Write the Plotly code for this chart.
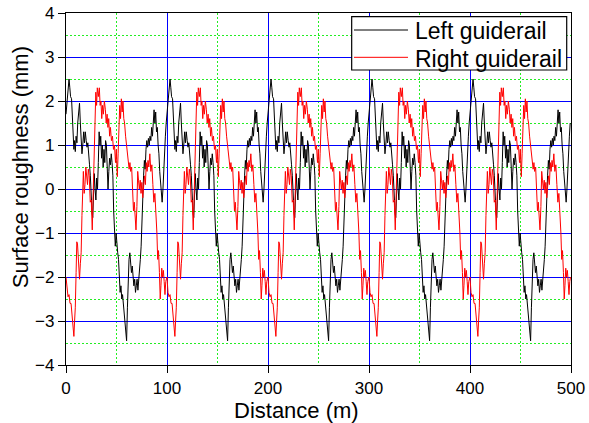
import plotly.graph_objects as go

# One 100 m cycle (the profile repeats identically every 100 m)
PERIOD_M = 100
N_CYCLES = 5

left_x = [0, 1, 2, 3, 3.8, 4.5, 5.5, 6.3, 7.1, 7.8, 8.5, 9.2, 10, 10.8, 11.6, 12.4, 13.4, 14.2, 15, 15.8,
          16.6, 17.5, 18.3, 19.1, 20, 20.8, 21.6, 22.4, 23.3, 24.1, 25, 25.8, 26.5, 27.3, 28, 28.8, 29.6,
          30.4, 31.2, 32, 32.8, 33.6, 34.4, 35.2, 36, 36.8, 37.6, 38.4, 39.2, 40, 40.8, 41.6, 42.4, 43.2,
          44, 44.8, 45.6, 46.4, 47.2, 48, 48.8, 49.6, 50.4, 51.2, 52, 52.8, 53.6, 54.4, 55.2, 56, 56.8,
          57.6, 58.4, 59.2, 60, 60.8, 61.6, 62.4, 63.2, 64, 64.8, 65.6, 66.4, 67.2, 68, 68.8, 69.6, 70.4,
          71.2, 72, 72.8, 73.6, 74.4, 75.2, 76, 76.8, 77.6, 78.4, 79.2, 80, 80.8, 81.6, 82.4, 83.2, 84,
          84.8, 85.6, 86.4, 87.2, 88, 88.8, 89.6, 90.4, 91.2, 92, 92.8, 93.6, 94.4, 95.2, 96, 96.8, 97.6,
          98.4, 99.2]
left_y = [1.7, 2.0, 2.3, 2.5, 2.3, 2.1, 2.05, 1.7, 1.2, 0.9, 1.1, 0.85, 1.2, 1.05, 1.5, 1.65, 1.95, 1.5, 1.1, 0.8,
          1.0, 1.3, 1.05, 1.3, 1.1, 0.95, 1.05, 0.7, 0.55, 0.3, -0.25, -0.55, -0.65, -0.1, 0.35, 0.0, -0.25,
          0.25, 0.0, 0.6, 1.3, 1.0, 1.2, 0.7, 1.0, 0.5, 0.9, 0.6, 1.1, 1.0, 0.5, 0.0, 0.4, 0.7,
          0.55, 0.8, 0.6, 0.3, -0.5, -1.1, -1.3, -1.0, -1.35, -1.45, -1.6, -2.0, -2.35, -2.2, -2.5, -2.4, -2.6,
          -2.75, -3.0, -3.2, -3.45, -2.7, -2.0, -1.6, -1.45, -1.7, -1.9, -1.75, -2.05, -2.2, -2.05, -2.35, -2.2, -2.05,
          -2.3, -2.1, -1.9, -1.6, -1.3, -0.6, -0.2, 0.3, 0.65, 0.45, 0.9, 1.1, 0.95, 1.15, 1.0, 1.2, 1.1,
          1.4, 1.2, 1.55, 1.8, 1.5, 1.75, 1.3, 1.4, 1.0, 0.8, 0.4, 0.1, -0.2, -0.3, 0.0, 0.5, 1.0,
          1.2, 1.5]

right_x = [0, 1, 2, 3, 4, 5, 6, 7, 7.8, 8.5, 9.2, 10, 10.7, 11.4, 12, 12.7, 13.4, 14.2, 15, 15.8, 16.5, 17.2,
           18, 18.8, 19.6, 20.5, 21.3, 22.1, 23, 24, 25, 26, 26.8, 27.7, 28.5, 29.5, 30.3, 31, 32, 33, 33.8,
           34.6, 35.4, 36.2, 37, 38, 39, 39.8, 40.7, 41.5, 42.3, 43.2, 44, 45, 46, 47, 48, 49, 49.8, 50.8,
           51.6, 52.4, 53.2, 54, 54.8, 55.6, 56.4, 57.2, 58, 59, 60, 60.8, 61.6, 62.5, 63.3, 64, 65, 66, 66.8,
           67.6, 68.5, 69.3, 70.2, 71, 71.8, 72.6, 73.5, 74.3, 75.1, 76, 77, 77.8, 78.6, 79.5, 80.3, 81.2, 82,
           83, 84, 85, 86, 87, 88, 89, 90, 90.8, 91.6, 92.5, 93.3, 94, 94.8, 95.6, 96.4, 97.2, 98, 98.8, 99.5]
right_y = [-2.0, -2.35, -2.45, -2.4, -2.6, -2.6, -2.9, -3.2, -3.35, -3.0, -2.7, -1.9, -1.2, -1.25, -1.6, -1.85,
           -2.05, -1.7, -1.45, -0.6, 0.25, 0.4, -0.1, 0.1, 0.5, 0.35, 0.1, 0.45, 0.3, -0.3, -0.25, -0.93, -0.3,
           0.7, 1.5, 2.2, 1.9, 2.3, 2.1, 2.3, 1.9, 2.0, 1.6, 1.9, 1.7, 2.0, 1.8, 1.5, 1.7, 1.4, 1.6, 1.2, 1.4,
           1.1, 1.2, 0.9, 1.0, 0.6, 0.9, 0.28, 0.8, 1.4, 1.9, 1.6, 2.05, 1.75, 2.0, 1.6, 1.5, 1.2, 1.0, 0.9,
           0.7, 0.45, 0.6, 0.4, 0.5, -0.2, -0.5, -0.3, -0.8, -0.93, -0.4, 0.4, 0.2, 0.0, 0.2, -0.1, 0.15, -0.2,
           0.1, 0.3, 0.1, 0.6, 0.4, 0.65, 0.5, 0.8, 0.4, 0.55, 0.1, -0.3, -0.1, -0.5, -1.0, -1.6, -1.4, -1.9,
           -2.5, -2.2, -1.8, -2.0, -1.85, -2.1, -2.4, -2.1, -2.0]

series_names = ["Left guiderail", "Right guiderail"]
series_colors = ["black", "#ff0000"]
x_title = "Distance (m)"
y_title = "Surface roughness (mm)"


def repeat_cycle(xs, ys):
    ox, oy = [], []
    for k in range(N_CYCLES):
        ox += [v + k * PERIOD_M for v in xs]
        oy += list(ys)
    return ox, oy


lx, ly = repeat_cycle(left_x, left_y)
rx, ry = repeat_cycle(right_x, right_y)

FONT = "Liberation Sans, Arial, sans-serif"

fig = go.Figure()
fig.add_trace(go.Scatter(x=lx, y=ly, mode="lines", name=series_names[0],
                         line=dict(color=series_colors[0], width=1), showlegend=False))
fig.add_trace(go.Scatter(x=rx, y=ry, mode="lines", name=series_names[1],
                         line=dict(color=series_colors[1], width=1), showlegend=False))

axis_common = dict(
    showline=True, linecolor="black", linewidth=1.2, mirror=True,
    ticks="outside", ticklen=7, tickwidth=1, tickcolor="black",
    showgrid=True, gridcolor="#0000ff", gridwidth=1, zeroline=False,
    tickfont=dict(family=FONT, size=17, color="black"),
    tickmode="linear", tick0=0, automargin=False,
)

fig.update_xaxes(range=[0, 500], dtick=100,
                 minor=dict(dtick=50, tick0=0, showgrid=True, gridcolor="#22ee22", griddash="2px,2px", gridwidth=1),
                 **axis_common)
fig.update_yaxes(range=[-4, 4], dtick=1,
                 minor=dict(dtick=0.5, tick0=0, showgrid=True, gridcolor="#22ee22", griddash="2px,2px", gridwidth=1),
                 **axis_common)

# Legend box drawn in paper coordinates (inside the top-right corner of the plot)
LEG_X0, LEG_X1, LEG_Y0, LEG_Y1 = 0.5657, 0.9915, 0.838, 0.9895
LEG_LINE_X0, LEG_LINE_X1, LEG_TEXT_X = 0.5703, 0.6772, 0.6871
LEG_ROW_Y = [0.9517, 0.8741]

shapes = [dict(type="rect", xref="paper", yref="paper", x0=LEG_X0, x1=LEG_X1, y0=LEG_Y0, y1=LEG_Y1,
               line=dict(color="black", width=1.2), fillcolor="white", layer="above")]
annotations = []
for name, color, yy in zip(series_names, series_colors, LEG_ROW_Y):
    shapes.append(dict(type="line", xref="paper", yref="paper", x0=LEG_LINE_X0, x1=LEG_LINE_X1,
                       y0=yy, y1=yy, line=dict(color=color, width=1), layer="above"))
    annotations.append(dict(text=name, xref="paper", yref="paper", x=LEG_TEXT_X, y=yy - 0.004,
                            xanchor="left", yanchor="middle", showarrow=False,
                            font=dict(family=FONT, size=23, color="black")))

# Axis titles (placed where the original chart has them, slightly off-centre)
annotations.append(dict(text=x_title, xref="paper", yref="paper", x=0.4555, y=-0.128,
                        xanchor="center", yanchor="middle", showarrow=False,
                        font=dict(family=FONT, size=22, color="black")))
annotations.append(dict(text=y_title, xref="paper", yref="paper", x=-0.0885, y=0.563,
                        xanchor="center", yanchor="middle", showarrow=False, textangle=-90,
                        font=dict(family=FONT, size=22, color="black")))

fig.update_layout(
    width=589, height=423,
    margin=dict(l=66, r=18, t=13, b=58, autoexpand=False),
    paper_bgcolor="white", plot_bgcolor="white",
    font=dict(family=FONT, color="black"),
    showlegend=False,
    shapes=shapes,
    annotations=annotations,
)

# remove the browser's default 8px page margin so the 589x423 figure fills the window exactly
fig.write_html("out.html",
               config={"displayModeBar": False},
               post_script="document.body.style.margin='0';document.body.style.overflow='hidden';")
